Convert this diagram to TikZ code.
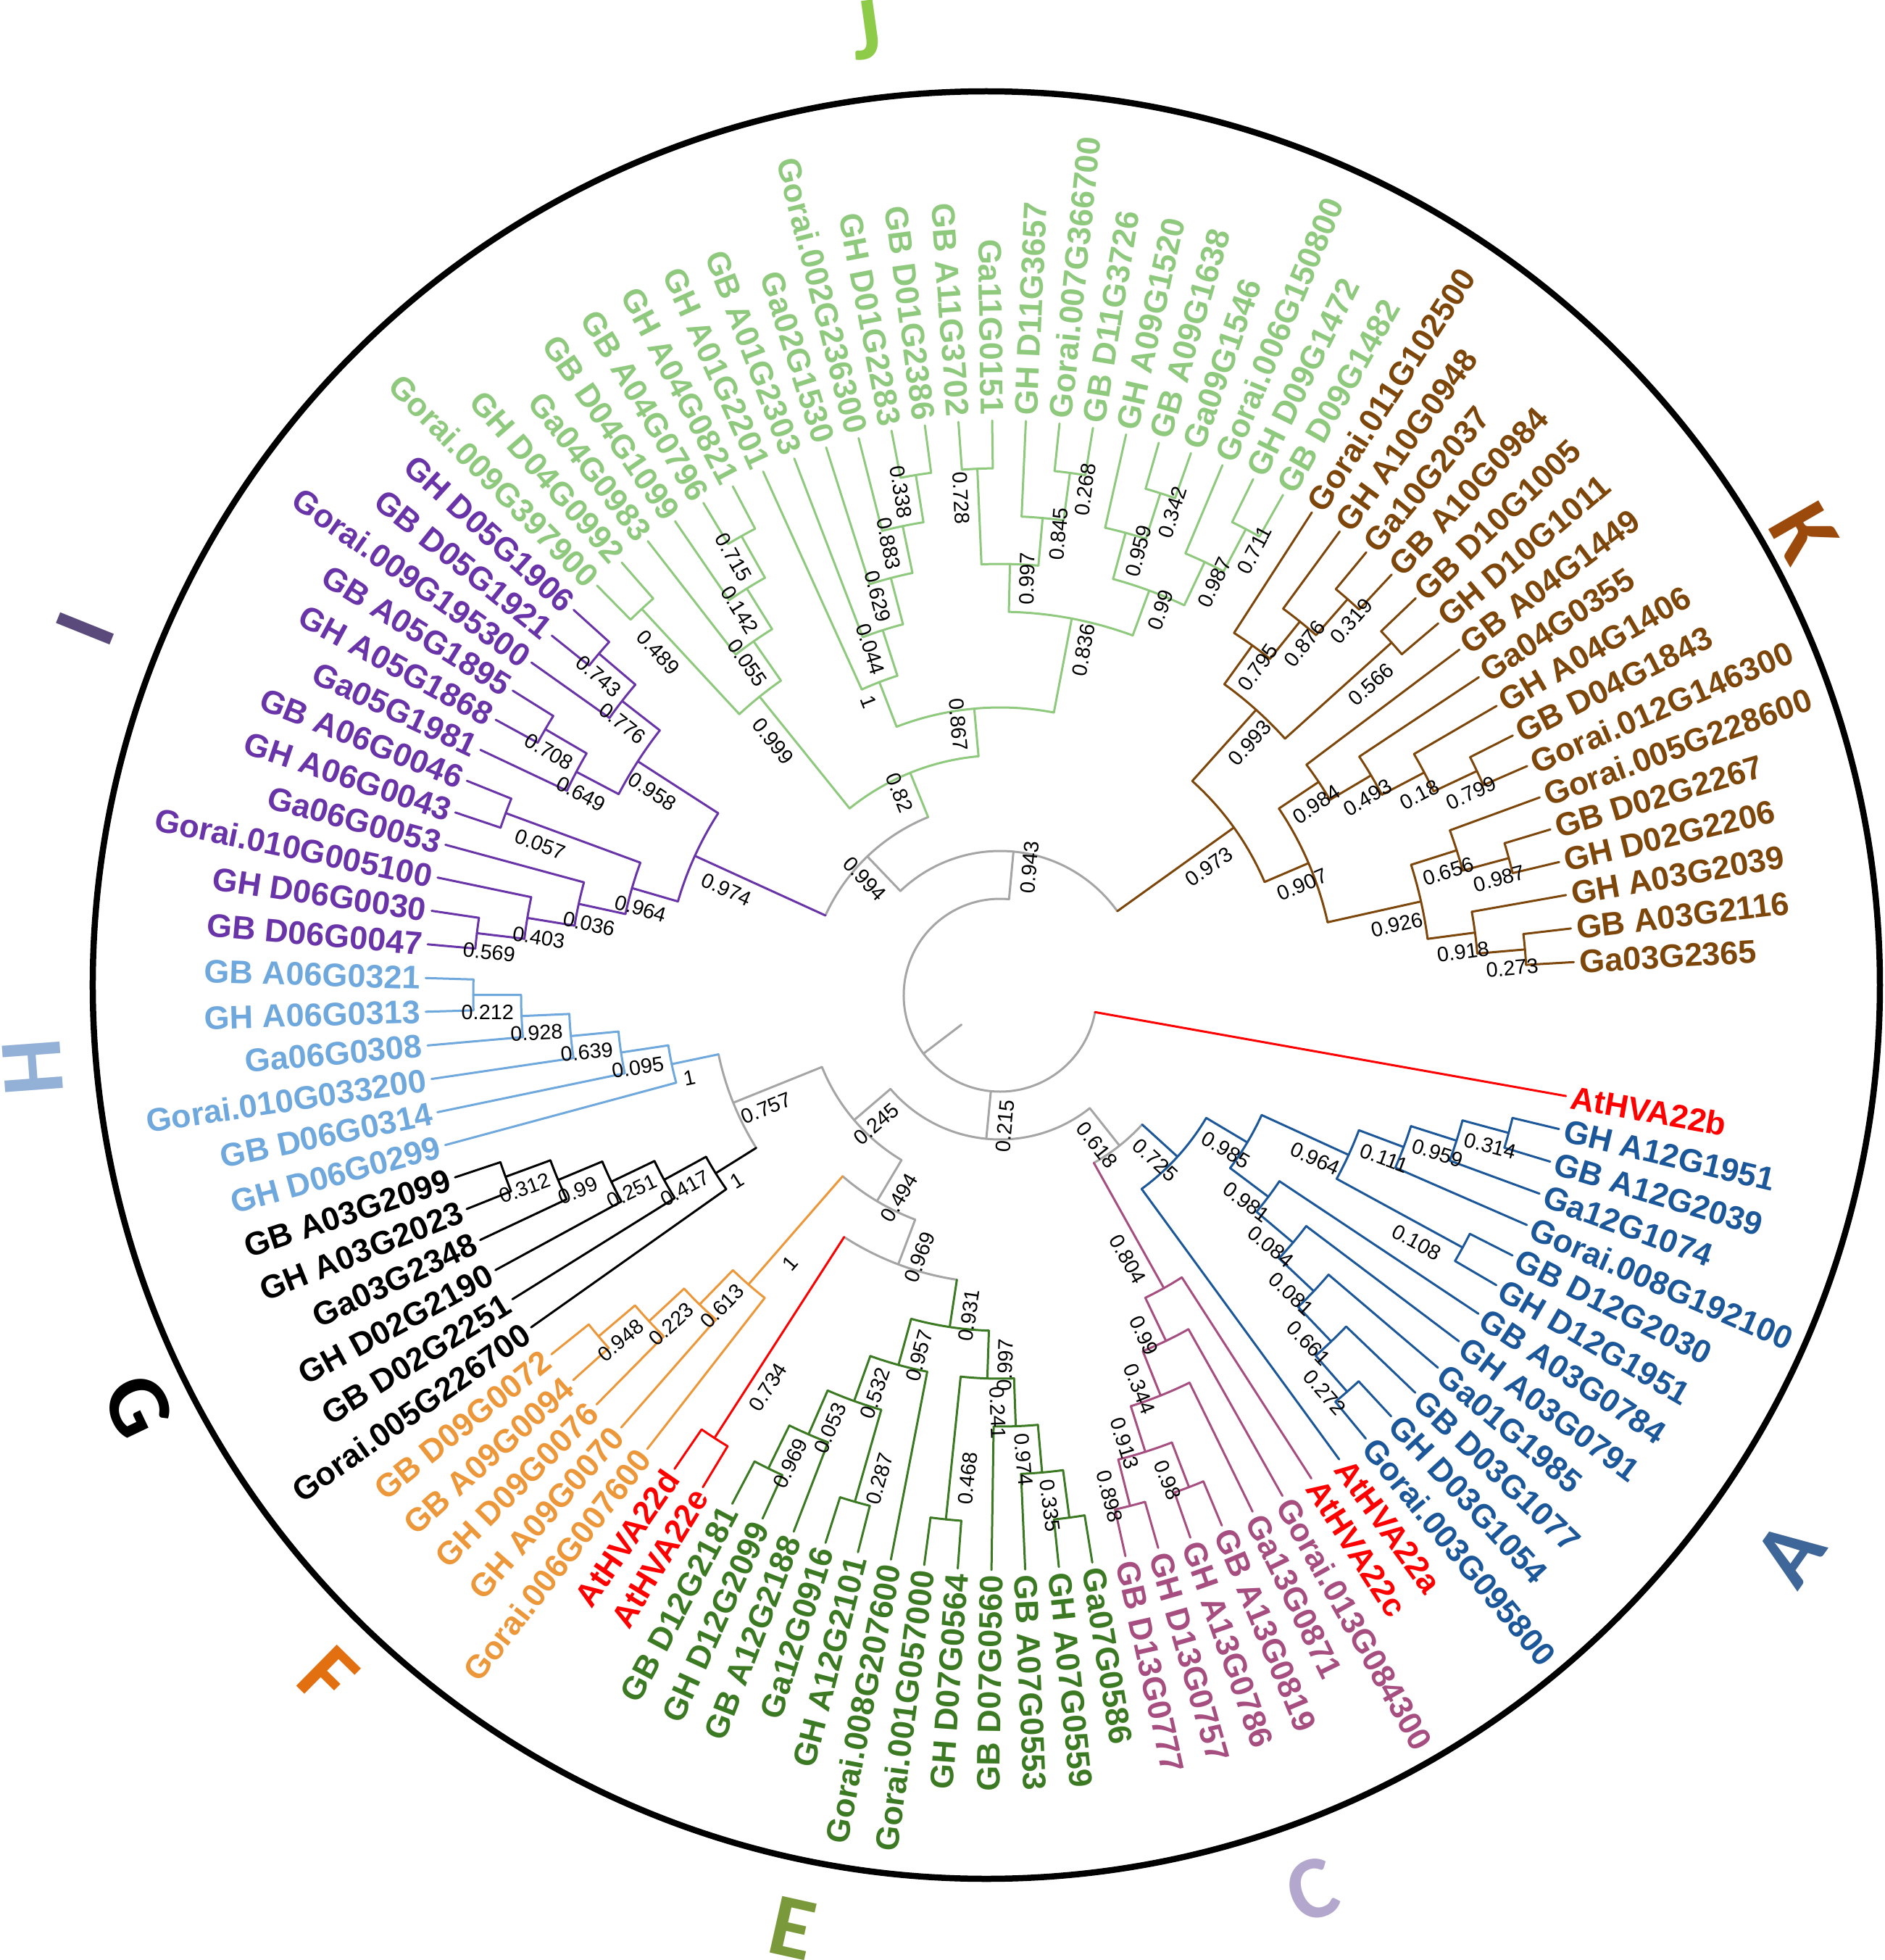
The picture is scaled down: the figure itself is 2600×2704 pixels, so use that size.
\documentclass[tikz,border=0pt]{standalone}
\usepackage{fontspec}
\setmainfont{Liberation Sans}
\newfontfamily\grpfont{Carlito}
\usetikzlibrary{calc}
\definecolor{cA}{RGB}{27,87,153}
\definecolor{cC}{RGB}{166,78,128}
\definecolor{cE}{RGB}{59,122,34}
\definecolor{cF}{RGB}{236,152,58}
\definecolor{cG}{RGB}{0,0,0}
\definecolor{cH}{RGB}{111,168,220}
\definecolor{cI}{RGB}{104,52,168}
\definecolor{cJ}{RGB}{143,201,126}
\definecolor{cK}{RGB}{125,70,10}
\definecolor{cGr}{RGB}{165,165,165}
\definecolor{cR}{RGB}{255,0,0}
\definecolor{gA}{RGB}{62,102,152}
\definecolor{gC}{RGB}{179,167,206}
\definecolor{gE}{RGB}{122,153,58}
\definecolor{gF}{RGB}{226,112,16}
\definecolor{gH}{RGB}{147,176,214}
\definecolor{gI}{RGB}{90,74,124}
\definecolor{gJ}{RGB}{141,203,72}
\definecolor{gK}{RGB}{156,74,12}
\tikzset{
  treeline/.style={line width=0.3mm,line cap=round,line join=round},
  leaflab/.style={font=\fontsize{12.8}{15}\selectfont\bfseries,inner sep=0pt},
  bslab/.style={font=\fontsize{8.2}{10}\selectfont,inner sep=0pt},
  grplab/.style={font=\grpfont\bfseries\fontsize{35}{40}\selectfont,inner sep=0pt},
}
% leaf: name, index, branch colour, text colour, text
\newcommand\tleaf[5]{%
  \pgfmathsetmacro\myA{-(10.1+3.365*#2)}%
  \expandafter\xdef\csname na@#1\endcsname{\myA}%
  \expandafter\xdef\csname nh@#1\endcsname{0}%
  \expandafter\xdef\csname nr@#1\endcsname{793}%
  \expandafter\xdef\csname nc@#1\endcsname{#3}%
  \expandafter\gdef\csname nl@#1\endcsname{}%
  \pgfmathsetmacro\myC{cos(\myA)}%
  \ifdim\myC pt<0pt
    \pgfmathsetmacro\myR{\myA+180}%
    \node[leaflab,text=#4,anchor=east,rotate=\myR] (#1) at (\myA:800) {#5};%
  \else
    \node[leaflab,text=#4,anchor=west,rotate=\myA] (#1) at (\myA:800) {#5};%
  \fi}
% child branch: child name, parent radius
\newcommand\tchild[2]{%
  \edef\myCa{\csname na@#1\endcsname}%
  \edef\myCr{\csname nr@#1\endcsname}%
  \edef\myCc{\csname nc@#1\endcsname}%
  \edef\myCl{\csname nl@#1\endcsname}%
  \draw[treeline,draw=\myCc] (\myCa:#2) -- (\myCa:\myCr);%
  \ifx\myCl\empty\else
    \pgfmathsetmacro\myLr{#2+0.7*(\myCr-#2)}%
    \pgfmathsetmacro\myCs{cos(\myCa)}%
    \ifdim\myCs pt<0pt
      \pgfmathsetmacro\myRo{\myCa+180}\pgfmathsetmacro\myPa{\myCa+90}%
    \else
      \pgfmathsetmacro\myRo{\myCa}\pgfmathsetmacro\myPa{\myCa-90}%
    \fi
    \node[bslab,rotate=\myRo] (b#1) at ($(\myCa:\myLr)+(\myPa:24)$) {\myCl};%
  \fi}
% internal node: name, child1, child2, colour, support
\newcommand\tnode[5]{%
  \edef\myAa{\csname na@#2\endcsname}%
  \edef\myAb{\csname na@#3\endcsname}%
  \edef\myHa{\csname nh@#2\endcsname}%
  \edef\myHb{\csname nh@#3\endcsname}%
  \pgfmathtruncatemacro\myH{max(\myHa,\myHb)+1}%
  \pgfmathsetmacro\myRr{793-66*\myH}%
  \pgfmathsetmacro\myAn{(\myAa+\myAb)/2}%
  \expandafter\xdef\csname na@#1\endcsname{\myAn}%
  \expandafter\xdef\csname nh@#1\endcsname{\myH}%
  \expandafter\xdef\csname nr@#1\endcsname{\myRr}%
  \expandafter\xdef\csname nc@#1\endcsname{#4}%
  \expandafter\gdef\csname nl@#1\endcsname{#5}%
  \coordinate (#1) at (\myAn:\myRr);%
  \draw[treeline,draw=#4] (\myAa:\myRr) arc[start angle=\myAa,end angle=\myAb,radius=\myRr];%
  \tchild{#2}{\myRr}\tchild{#3}{\myRr}}
\begin{document}
\begin{tikzpicture}[x=0.1mm,y=0.1mm]
\useasboundingbox (-1380,-1331) rectangle (1220,1373);
\fill[white] (-1380,-1331) rectangle (1220,1373);
\draw[line width=0.85mm] (-19,14) circle[radius=1233];
% ---------- leaves ----------
\tleaf{L0}{0}{cR}{cR}{AtHVA22b}
\tleaf{L1}{1}{cA}{cA}{GH A12G1951}
\tleaf{L2}{2}{cA}{cA}{GB A12G2039}
\tleaf{L3}{3}{cA}{cA}{Ga12G1074}
\tleaf{L4}{4}{cA}{cA}{Gorai.008G192100}
\tleaf{L5}{5}{cA}{cA}{GB D12G2030}
\tleaf{L6}{6}{cA}{cA}{GH D12G1951}
\tleaf{L7}{7}{cA}{cA}{GB A03G0784}
\tleaf{L8}{8}{cA}{cA}{GH A03G0791}
\tleaf{L9}{9}{cA}{cA}{Ga01G1985}
\tleaf{L10}{10}{cA}{cA}{GB D03G1077}
\tleaf{L11}{11}{cA}{cA}{GH D03G1054}
\tleaf{L12}{12}{cA}{cA}{Gorai.003G095800}
\tleaf{L13}{13}{cA}{cR}{AtHVA22a}
\tleaf{L14}{14}{cC}{cR}{AtHVA22c}
\tleaf{L15}{15}{cC}{cC}{Gorai.013G084300}
\tleaf{L16}{16}{cC}{cC}{Ga13G0871}
\tleaf{L17}{17}{cC}{cC}{GB A13G0819}
\tleaf{L18}{18}{cC}{cC}{GH A13G0786}
\tleaf{L19}{19}{cC}{cC}{GH D13G0757}
\tleaf{L20}{20}{cC}{cC}{GB D13G0777}
\tleaf{L21}{21}{cE}{cE}{Ga07G0586}
\tleaf{L22}{22}{cE}{cE}{GH A07G0559}
\tleaf{L23}{23}{cE}{cE}{GB A07G0553}
\tleaf{L24}{24}{cE}{cE}{GB D07G0560}
\tleaf{L25}{25}{cE}{cE}{GH D07G0564}
\tleaf{L26}{26}{cE}{cE}{Gorai.001G057000}
\tleaf{L27}{27}{cE}{cE}{Gorai.008G207600}
\tleaf{L28}{28}{cE}{cE}{GH A12G2101}
\tleaf{L29}{29}{cE}{cE}{Ga12G0916}
\tleaf{L30}{30}{cE}{cE}{GB A12G2188}
\tleaf{L31}{31}{cE}{cE}{GH D12G2099}
\tleaf{L32}{32}{cE}{cE}{GB D12G2181}
\tleaf{L33}{33}{cR}{cR}{AtHVA22e}
\tleaf{L34}{34}{cR}{cR}{AtHVA22d}
\tleaf{L35}{35}{cF}{cF}{Gorai.006G007600}
\tleaf{L36}{36}{cF}{cF}{GH A09G0070}
\tleaf{L37}{37}{cF}{cF}{GH D09G0076}
\tleaf{L38}{38}{cF}{cF}{GB A09G0094}
\tleaf{L39}{39}{cF}{cF}{GB D09G0072}
\tleaf{L40}{40}{cG}{cG}{Gorai.005G226700}
\tleaf{L41}{41}{cG}{cG}{GB D02G2251}
\tleaf{L42}{42}{cG}{cG}{GH D02G2190}
\tleaf{L43}{43}{cG}{cG}{Ga03G2348}
\tleaf{L44}{44}{cG}{cG}{GH A03G2023}
\tleaf{L45}{45}{cG}{cG}{GB A03G2099}
\tleaf{L46}{46}{cH}{cH}{GH D06G0299}
\tleaf{L47}{47}{cH}{cH}{GB D06G0314}
\tleaf{L48}{48}{cH}{cH}{Gorai.010G033200}
\tleaf{L49}{49}{cH}{cH}{Ga06G0308}
\tleaf{L50}{50}{cH}{cH}{GH A06G0313}
\tleaf{L51}{51}{cH}{cH}{GB A06G0321}
\tleaf{L52}{52}{cI}{cI}{GB D06G0047}
\tleaf{L53}{53}{cI}{cI}{GH D06G0030}
\tleaf{L54}{54}{cI}{cI}{Gorai.010G005100}
\tleaf{L55}{55}{cI}{cI}{Ga06G0053}
\tleaf{L56}{56}{cI}{cI}{GH A06G0043}
\tleaf{L57}{57}{cI}{cI}{GB A06G0046}
\tleaf{L58}{58}{cI}{cI}{Ga05G1981}
\tleaf{L59}{59}{cI}{cI}{GH A05G1868}
\tleaf{L60}{60}{cI}{cI}{GB A05G1895}
\tleaf{L61}{61}{cI}{cI}{Gorai.009G195300}
\tleaf{L62}{62}{cI}{cI}{GB D05G1921}
\tleaf{L63}{63}{cI}{cI}{GH D05G1906}
\tleaf{L64}{64}{cJ}{cJ}{Gorai.009G397900}
\tleaf{L65}{65}{cJ}{cJ}{GH D04G0992}
\tleaf{L66}{66}{cJ}{cJ}{Ga04G0983}
\tleaf{L67}{67}{cJ}{cJ}{GB D04G1099}
\tleaf{L68}{68}{cJ}{cJ}{GB A04G0796}
\tleaf{L69}{69}{cJ}{cJ}{GH A04G0821}
\tleaf{L70}{70}{cJ}{cJ}{GH A01G2201}
\tleaf{L71}{71}{cJ}{cJ}{GB A01G2303}
\tleaf{L72}{72}{cJ}{cJ}{Ga02G1530}
\tleaf{L73}{73}{cJ}{cJ}{Gorai.002G236300}
\tleaf{L74}{74}{cJ}{cJ}{GH D01G2283}
\tleaf{L75}{75}{cJ}{cJ}{GB D01G2386}
\tleaf{L76}{76}{cJ}{cJ}{GB A11G3702}
\tleaf{L77}{77}{cJ}{cJ}{Ga11G0151}
\tleaf{L78}{78}{cJ}{cJ}{GH D11G3657}
\tleaf{L79}{79}{cJ}{cJ}{Gorai.007G366700}
\tleaf{L80}{80}{cJ}{cJ}{GB D11G3726}
\tleaf{L81}{81}{cJ}{cJ}{GH A09G1520}
\tleaf{L82}{82}{cJ}{cJ}{GB A09G1638}
\tleaf{L83}{83}{cJ}{cJ}{Ga09G1546}
\tleaf{L84}{84}{cJ}{cJ}{Gorai.006G150800}
\tleaf{L85}{85}{cJ}{cJ}{GH D09G1472}
\tleaf{L86}{86}{cJ}{cJ}{GB D09G1482}
\tleaf{L87}{87}{cK}{cK}{Gorai.011G102500}
\tleaf{L88}{88}{cK}{cK}{GH A10G0948}
\tleaf{L89}{89}{cK}{cK}{Ga10G2037}
\tleaf{L90}{90}{cK}{cK}{GB A10G0984}
\tleaf{L91}{91}{cK}{cK}{GB D10G1005}
\tleaf{L92}{92}{cK}{cK}{GH D10G1011}
\tleaf{L93}{93}{cK}{cK}{GB A04G1449}
\tleaf{L94}{94}{cK}{cK}{Ga04G0355}
\tleaf{L95}{95}{cK}{cK}{GH A04G1406}
\tleaf{L96}{96}{cK}{cK}{GB D04G1843}
\tleaf{L97}{97}{cK}{cK}{Gorai.012G146300}
\tleaf{L98}{98}{cK}{cK}{Gorai.005G228600}
\tleaf{L99}{99}{cK}{cK}{GB D02G2267}
\tleaf{L100}{100}{cK}{cK}{GH D02G2206}
\tleaf{L101}{101}{cK}{cK}{GH A03G2039}
\tleaf{L102}{102}{cK}{cK}{GB A03G2116}
\tleaf{L103}{103}{cK}{cK}{Ga03G2365}
% ---------- K ----------
\tnode{k273}{L102}{L103}{cK}{0.273}
\tnode{k918}{L101}{k273}{cK}{0.918}
\tnode{k987}{L99}{L100}{cK}{0.987}
\tnode{k656}{L98}{k987}{cK}{0.656}
\tnode{k926}{k656}{k918}{cK}{0.926}
\tnode{k799}{L96}{L97}{cK}{0.799}
\tnode{k18}{L95}{k799}{cK}{0.18}
\tnode{k493}{L94}{k18}{cK}{0.493}
\tnode{k984}{L93}{k493}{cK}{0.984}
\tnode{k907}{k984}{k926}{cK}{0.907}
\tnode{k319}{L89}{L90}{cK}{0.319}
\tnode{k876}{L88}{k319}{cK}{0.876}
\tnode{k795}{L87}{k876}{cK}{0.795}
\tnode{k566}{L91}{L92}{cK}{0.566}
\tnode{k993}{k795}{k566}{cK}{0.993}
\tnode{k973}{k993}{k907}{cK}{0.973}
% ---------- J ----------
\tnode{j489}{L64}{L65}{cJ}{0.489}
\tnode{j715}{L68}{L69}{cJ}{0.715}
\tnode{j142}{L67}{j715}{cJ}{0.142}
\tnode{j055}{L66}{j142}{cJ}{0.055}
\tnode{j999}{j489}{j055}{cJ}{0.999}
\tnode{j338}{L74}{L75}{cJ}{0.338}
\tnode{j883}{L73}{j338}{cJ}{0.883}
\tnode{j629}{L72}{j883}{cJ}{0.629}
\tnode{j044}{L71}{j629}{cJ}{0.044}
\tnode{j1}{L70}{j044}{cJ}{1}
\tnode{j728}{L76}{L77}{cJ}{0.728}
\tnode{j268}{L79}{L80}{cJ}{0.268}
\tnode{j845}{L78}{j268}{cJ}{0.845}
\tnode{j997}{j728}{j845}{cJ}{0.997}
\tnode{j342}{L82}{L83}{cJ}{0.342}
\tnode{j959}{L81}{j342}{cJ}{0.959}
\tnode{j711}{L85}{L86}{cJ}{0.711}
\tnode{j987}{L84}{j711}{cJ}{0.987}
\tnode{j99}{j959}{j987}{cJ}{0.99}
\tnode{j836}{j997}{j99}{cJ}{0.836}
\tnode{j867}{j1}{j836}{cJ}{0.867}
\tnode{j82}{j999}{j867}{cJ}{0.82}
% ---------- I ----------
\tnode{i743}{L62}{L63}{cI}{0.743}
\tnode{i776}{L61}{i743}{cI}{0.776}
\tnode{i708}{L59}{L60}{cI}{0.708}
\tnode{i649}{L58}{i708}{cI}{0.649}
\tnode{i958}{i776}{i649}{cI}{0.958}
\tnode{i057}{L56}{L57}{cI}{0.057}
\tnode{i569}{L52}{L53}{cI}{0.569}
\tnode{i403}{L54}{i569}{cI}{0.403}
\tnode{i036}{L55}{i403}{cI}{0.036}
\tnode{i964}{i057}{i036}{cI}{0.964}
\tnode{i974}{i958}{i964}{cI}{0.974}
\tnode{g994}{j82}{i974}{cGr}{0.994}
\tnode{g943}{g994}{k973}{cGr}{0.943}
% ---------- H ----------
\tnode{h212}{L50}{L51}{cH}{0.212}
\tnode{h928}{L49}{h212}{cH}{0.928}
\tnode{h639}{L48}{h928}{cH}{0.639}
\tnode{h095}{L47}{h639}{cH}{0.095}
\tnode{h1}{L46}{h095}{cH}{1}
% ---------- G ----------
\tnode{G312}{L44}{L45}{cG}{0.312}
\tnode{G99}{L43}{G312}{cG}{0.99}
\tnode{G251}{L42}{G99}{cG}{0.251}
\tnode{G417}{L41}{G251}{cG}{0.417}
\tnode{G1}{L40}{G417}{cG}{1}
\tnode{g757}{h1}{G1}{cGr}{0.757}
% ---------- F ----------
\tnode{f948}{L38}{L39}{cF}{0.948}
\tnode{f223}{L37}{f948}{cF}{0.223}
\tnode{f613}{L36}{f223}{cF}{0.613}
\tnode{f1}{L35}{f613}{cF}{1}
\tnode{r734}{L33}{L34}{cR}{0.734}
% ---------- E ----------
\tnode{e969}{L31}{L32}{cE}{0.969}
\tnode{e053}{L30}{e969}{cE}{0.053}
\tnode{e287}{L28}{L29}{cE}{0.287}
\tnode{e532}{e053}{e287}{cE}{0.532}
\tnode{e957}{e532}{L27}{cE}{0.957}
\tnode{e335}{L21}{L22}{cE}{0.335}
\tnode{e974}{L23}{e335}{cE}{0.974}
\tnode{e241}{L24}{e974}{cE}{0.241}
\tnode{e468}{L25}{L26}{cE}{0.468}
\tnode{e997}{e468}{e241}{cE}{0.997}
\tnode{e931}{e957}{e997}{cE}{0.931}
\tnode{g969}{r734}{e931}{cGr}{0.969}
\tnode{g494}{f1}{g969}{cGr}{0.494}
\tnode{g245}{g757}{g494}{cGr}{0.245}
% ---------- C ----------
\tnode{c98}{L17}{L18}{cC}{0.98}
\tnode{c898}{L19}{L20}{cC}{0.898}
\tnode{c913}{c98}{c898}{cC}{0.913}
\tnode{c344}{L16}{c913}{cC}{0.344}
\tnode{c99}{L15}{c344}{cC}{0.99}
\tnode{c804}{L14}{c99}{cC}{0.804}
% ---------- A ----------
\tnode{a314}{L1}{L2}{cA}{0.314}
\tnode{a959}{L3}{a314}{cA}{0.959}
\tnode{a111}{L4}{a959}{cA}{0.111}
\tnode{a108}{L5}{L6}{cA}{0.108}
\tnode{a964}{a111}{a108}{cA}{0.964}
\tnode{a272}{L11}{L12}{cA}{0.272}
\tnode{a661}{L10}{a272}{cA}{0.661}
\tnode{a081}{L9}{a661}{cA}{0.081}
\tnode{a084}{L8}{a081}{cA}{0.084}
\tnode{a981}{L7}{a084}{cA}{0.981}
\tnode{a985}{a964}{a981}{cA}{0.985}
\tnode{a725}{L13}{a985}{cA}{0.725}
\tnode{g618}{c804}{a725}{cGr}{0.618}
\tnode{g215}{g245}{g618}{cGr}{0.215}
% ---------- root ----------
\edef\myAa{\csname na@g943\endcsname}%
\edef\myAb{\csname na@L0\endcsname}%
\draw[treeline,draw=cGr] (\myAa:133) arc[start angle=\myAa,end angle=\myAb,radius=133];
\tchild{g943}{133}\tchild{g215}{133}\tchild{L0}{133}
\pgfmathsetmacro\myAn{(\myAa+\myAb)/2}
\coordinate (root) at (\myAn:133);
\coordinate (rootend) at (\myAn:67);
\draw[treeline,draw=cGr] (root) -- (rootend);
% ---------- group letters ----------
\node[grplab,text=gJ,rotate=7.9] (grpJ) at (-185,1331) {J};
\node[grplab,text=gK,rotate=-60.1] (grpK) at (1109,638) {K};
\node[grplab,text=gI,rotate=68.1] (grpI) at (-1262,506) {I};
\node[grplab,text=gH,rotate=-85.8] (grpH) at (-1335,-99) {H};
\node[grplab,text=black,rotate=-64.5] (grpG) at (-1190,-567) {G};
\node[grplab,text=gF,rotate=-44.6] (grpF) at (-927,-940) {F};
\node[grplab,text=gE,rotate=-12.6] (grpE) at (-287,-1287) {E};
\node[grplab,text=gC,rotate=19.3] (grpC) at (431,-1234) {C};
\node[grplab,text=gA,rotate=54.7] (grpA) at (1089,-770) {A};
\end{tikzpicture}
\end{document}
